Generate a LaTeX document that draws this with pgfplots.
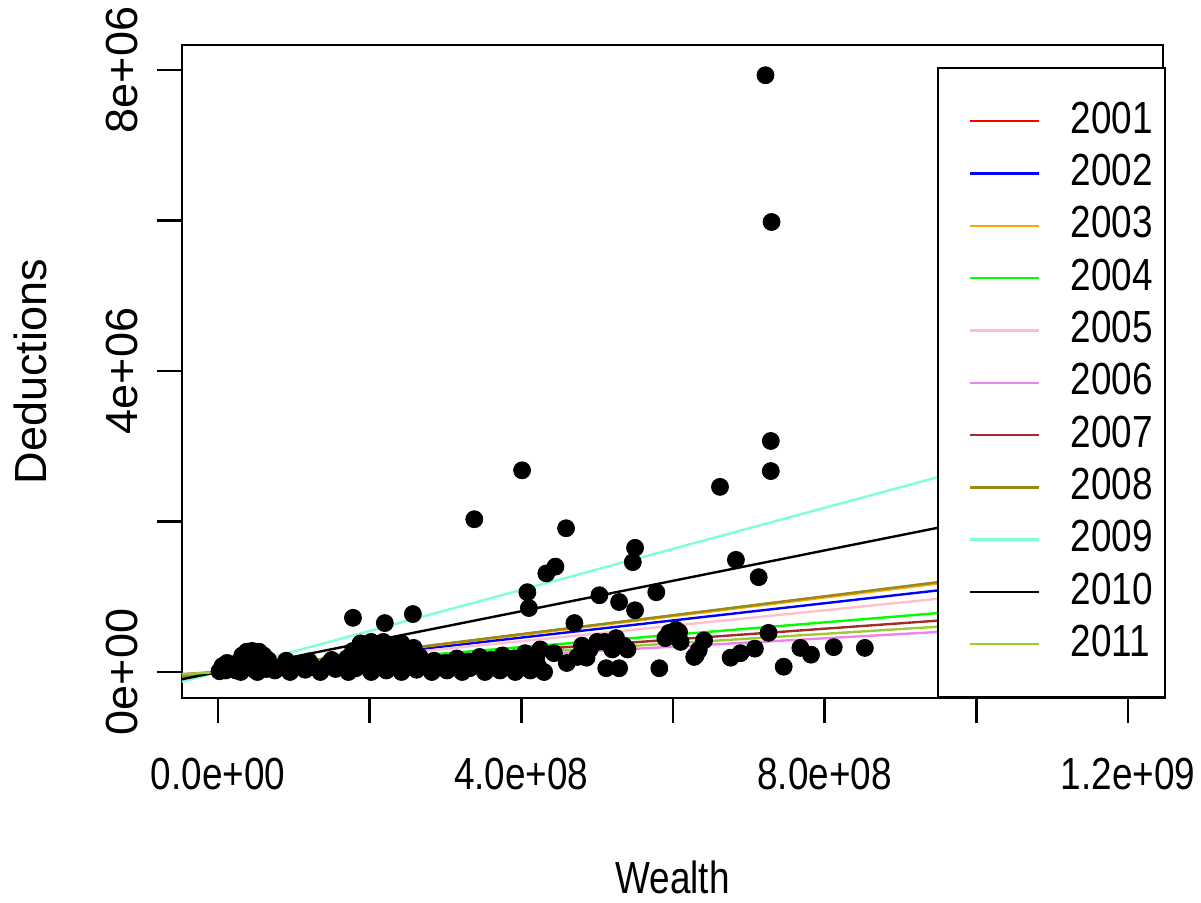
\documentclass[border=0pt]{standalone}
\usepackage{fontspec}
\setmainfont{Liberation Sans}[FakeStretch=0.82]
\newfontfamily\rotfont{Liberation Sans}
\usepackage{pgfplots}
\pgfplotsset{compat=1.18}
\definecolor{rred}{RGB}{255,0,0}
\definecolor{rblue}{RGB}{0,0,255}
\definecolor{rorange}{RGB}{255,165,0}
\definecolor{rgreen}{RGB}{0,255,0}
\definecolor{rpink}{RGB}{255,192,203}
\definecolor{rviolet}{RGB}{238,130,238}
\definecolor{rbrown}{RGB}{165,42,42}
\definecolor{rolive}{RGB}{150,140,20}
\definecolor{raqua}{RGB}{127,255,212}
\definecolor{ryg}{RGB}{154,205,50}
\newcommand{\bigf}{\fontsize{22.5}{27}\selectfont}
\newcommand{\pad}{\kern6.3pt\relax}
\begin{document}
\begin{tikzpicture}
\begin{axis}[
  scale only axis, width=490.5pt, height=326.5pt,
  xmin=-0.4747e8, xmax=12.462e8, ymin=-0.3455e6, ymax=8.332e6,
  axis line style={line width=1.2pt},
  every tick/.style={black, line width=1.2pt},
  tick align=outside, major tick length=12.5pt,
  xtick pos=lower, ytick pos=left,
  scaled ticks=false,
  xtick={0,2e8,4e8,6e8,8e8,10e8,12e8},
  xticklabels={0.0e+00,,4.0e+08,,8.0e+08,,1.2e+09},
  ytick={0,2e6,4e6,6e6,8e6},
  yticklabels={0e+00,,4e+06,,8e+06},
  xticklabel style={font=\bigf, anchor=center, yshift=-25.5pt},
  yticklabel style={font=\rotfont\bigf, rotate=90, anchor=center, yshift=17.5pt},
  xlabel={Wealth},
  xlabel style={font=\bigf, at={(axis description cs:0.5,0)}, anchor=center, yshift=-89.5pt},
  ylabel={Deductions},
  ylabel style={font=\rotfont\bigf, at={(axis description cs:0,0.5)}, anchor=center, yshift=76pt},
  legend style={at={(axis description cs:0.7696,0.9663)}, anchor=north west,
    draw=black, line width=1.2pt, fill=white,
    inner xsep=0pt, inner ysep=18.5pt, row sep=10.05pt, font=\bigf,
    nodes={inner sep=0pt, text height=14.1pt, text depth=2pt},
    /tikz/every odd column/.append style={column sep=15pt}},
  legend cell align=left,
  legend image code/.code={\path (-15.5pt,0pt); \draw[#1] (0pt,0pt) -- (34.5pt,0pt);},
]
\addplot[only marks, mark=*, mark size=4.25pt, black, forget plot] coordinates {
(0.02e8,0.01e6) (0.06e8,0.08e6) (0.10e8,0.02e6) (0.12e8,0.12e6) (0.16e8,0.05e6)
(0.20e8,0.10e6) (0.24e8,0.02e6) (0.28e8,0.14e6) (0.32e8,0.22e6) (0.36e8,0.06e6)
(0.38e8,0.27e6) (0.42e8,0.15e6) (0.45e8,0.28e6) (0.48e8,0.03e6) (0.50e8,0.20e6)
(0.54e8,0.27e6) (0.57e8,0.10e6) (0.60e8,0.22e6) (0.64e8,0.04e6) (0.66e8,0.16e6)
(0.70e8,0.08e6) (0.30e8,0.00e6) (0.52e8,0.00e6)
(0.75e8,0.02e6) (0.85e8,0.08e6) (0.95e8,0.00e6) (1.05e8,0.10e6) (1.15e8,0.03e6)
(1.25e8,0.07e6) (1.35e8,0.00e6) (1.45e8,0.10e6) (1.55e8,0.04e6) (1.65e8,0.08e6)
(1.72e8,0.00e6) (1.82e8,0.05e6) (1.92e8,0.10e6) (2.02e8,0.00e6) (2.12e8,0.06e6)
(2.22e8,0.02e6) (2.32e8,0.10e6) (2.42e8,0.00e6) (2.52e8,0.07e6) (2.62e8,0.03e6)
(2.72e8,0.10e6) (2.82e8,0.00e6) (2.92e8,0.06e6) (3.02e8,0.02e6) (3.12e8,0.10e6)
(3.22e8,0.00e6) (3.32e8,0.05e6) (3.42e8,0.09e6) (3.52e8,0.00e6) (3.62e8,0.06e6)
(3.72e8,0.02e6) (3.82e8,0.10e6) (3.92e8,0.00e6) (4.02e8,0.06e6) (4.12e8,0.02e6)
(4.22e8,0.08e6) (4.30e8,0.00e6)
(0.90e8,0.15e6) (1.20e8,0.14e6) (1.50e8,0.16e6) (1.70e8,0.18e6)
(1.78e8,0.28e6) (1.88e8,0.38e6) (1.95e8,0.25e6) (2.02e8,0.40e6) (2.10e8,0.32e6)
(2.18e8,0.40e6) (2.26e8,0.35e6) (2.34e8,0.28e6) (2.42e8,0.38e6) (2.50e8,0.26e6)
(2.58e8,0.32e6) (2.66e8,0.20e6) (1.85e8,0.16e6) (2.05e8,0.18e6) (2.25e8,0.15e6)
(2.45e8,0.17e6) (2.70e8,0.12e6) (1.78e8,0.72e6) (2.20e8,0.65e6) (2.57e8,0.77e6)
(2.85e8,0.15e6) (3.00e8,0.12e6) (3.15e8,0.18e6) (3.30e8,0.14e6) (3.45e8,0.20e6)
(3.60e8,0.16e6) (3.75e8,0.22e6) (3.90e8,0.18e6) (4.05e8,0.25e6) (4.20e8,0.20e6)
(4.25e8,0.30e6)
(4.01e8,2.68e6) (3.38e8,2.03e6) (4.59e8,1.91e6) (5.50e8,1.65e6) (5.47e8,1.46e6)
(4.45e8,1.40e6) (4.33e8,1.31e6) (4.08e8,1.06e6) (4.10e8,0.85e6) (5.03e8,1.02e6)
(5.29e8,0.93e6) (5.50e8,0.82e6) (5.78e8,1.06e6) (4.70e8,0.65e6) (4.60e8,0.12e6)
(4.86e8,0.19e6) (5.12e8,0.05e6) (5.29e8,0.05e6) (5.82e8,0.05e6) (6.04e8,0.56e6)
(6.30e8,0.22e6) (4.43e8,0.25e6) (4.74e8,0.20e6)
(4.80e8,0.35e6) (4.90e8,0.30e6) (5.00e8,0.40e6) (5.10e8,0.40e6) (5.20e8,0.30e6)
(5.25e8,0.45e6) (5.35e8,0.35e6) (5.40e8,0.30e6) (5.90e8,0.45e6) (5.95e8,0.52e6)
(6.10e8,0.40e6)
(7.29e8,3.07e6) (7.29e8,2.67e6) (6.62e8,2.46e6) (6.83e8,1.49e6) (7.13e8,1.26e6)
(6.08e8,0.53e6) (6.41e8,0.42e6) (6.28e8,0.20e6) (6.34e8,0.29e6) (6.76e8,0.19e6)
(6.89e8,0.25e6) (7.08e8,0.31e6) (7.26e8,0.52e6) (7.46e8,0.07e6) (7.68e8,0.32e6)
(7.82e8,0.23e6) (8.12e8,0.33e6) (8.53e8,0.32e6)
(7.22e8,7.93e6) (7.30e8,5.98e6)
};
\addplot[rred, line width=1.2pt] coordinates {(-0.4747e8,-59200) (12.462e8,1554000)};
\addlegendentry{2001\pad}
\addplot[rblue, line width=1.2pt] coordinates {(-0.4747e8,-54200) (12.462e8,1423200)};
\addlegendentry{2002\pad}
\addplot[rorange, line width=1.2pt] coordinates {(-0.4747e8,-58800) (12.462e8,1542800)};
\addlegendentry{2003\pad}
\addplot[rgreen, line width=1.2pt] coordinates {(-0.4747e8,-39100) (12.462e8,1027500)};
\addlegendentry{2004\pad}
\addplot[rpink, line width=1.2pt] coordinates {(-0.4747e8,-48700) (12.462e8,1277400)};
\addlegendentry{2005\pad}
\addplot[rviolet, line width=1.2pt] coordinates {(-0.4747e8,-26600) (12.462e8,697900)};
\addlegendentry{2006\pad}
\addplot[rbrown, line width=1.2pt] coordinates {(-0.4747e8,-34100) (12.462e8,896000)};
\addlegendentry{2007\pad}
\addplot[rolive, line width=1.2pt] coordinates {(-0.4747e8,-59700) (12.462e8,1567700)};
\addlegendentry{2008\pad}
\addplot[raqua, line width=1.2pt] coordinates {(-0.4747e8,-129500) (12.462e8,3398400)};
\addlegendentry{2009\pad}
\addplot[black, line width=1.2pt] coordinates {(-0.4747e8,-95800) (12.462e8,2516100)};
\addlegendentry{2010\pad}
\addplot[ryg, line width=1.2pt] coordinates {(-0.4747e8,-30100) (12.462e8,790100)};
\addlegendentry{2011\pad}
\end{axis}
\pgfresetboundingbox
\useasboundingbox (-91pt,-102.5pt) rectangle (509.5pt,349pt);
\end{tikzpicture}
\end{document}
